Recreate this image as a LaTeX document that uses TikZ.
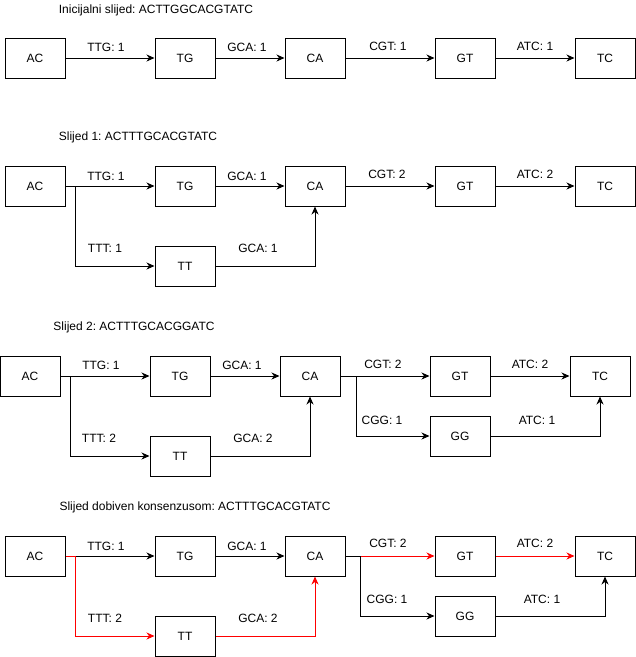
\documentclass[tikz,border=0pt]{standalone}
\usepackage{fontspec}
\setmainfont{Liberation Sans}
\usepackage{xcolor}
\usetikzlibrary{arrows.meta}
\frenchspacing
\definecolor{dark}{RGB}{0, 0, 0}
\definecolor{best}{RGB}{255, 0, 0}
\tikzset{
    kmer/.style={rectangle, draw=dark, line width=1pt, fill=white, minimum width=60pt, minimum height=40pt, inner sep=0pt, font=\fontsize{12}{14}\selectfont},
    lbl/.style={inner sep=0pt, font=\fontsize{12}{14}\selectfont},
    arr/.style={-{Stealth[length=8pt, width=7pt, inset=2.5pt]}, line width=1pt, dark},
    hl/.style={best}
}
\begin{document}
\begin{tikzpicture}[x=1pt, y=-1pt]
        \useasboundingbox (0,0) rectangle (636,657);

        % Inicijalni slijed
        \node[lbl] (t1) at (156,10) {Inicijalni slijed: ACTTGGCACGTATC};
        \node[kmer] (ac1) at (35,58) {AC};
        \node[kmer] (tg1) at (185,58) {TG};
        \node[kmer] (ca1) at (315,58) {CA};
        \node[kmer] (gt1) at (465,58) {GT};
        \node[kmer] (tc1) at (605,58) {TC};
        \node[lbl] at (106,47) {TTG: 1};
        \node[lbl] at (247,47) {GCA: 1};
        \node[lbl] at (388,46) {CGT: 1};
        \node[lbl] at (535,46) {ATC: 1};
        \draw[arr] (ac1) -- (tg1);
        \draw[arr] (tg1) -- (ca1);
        \draw[arr] (ca1) -- (gt1);
        \draw[arr] (gt1) -- (tc1);

        % Slijed 1
        \node[lbl] (t2) at (138,137) {Slijed 1: ACTTTGCACGTATC};
        \node[kmer] (ac2) at (35,186) {AC};
        \node[kmer] (tg2) at (185,186) {TG};
        \node[kmer] (ca2) at (315,186) {CA};
        \node[kmer] (gt2) at (465,186) {GT};
        \node[kmer] (tc2) at (605,186) {TC};
        \node[kmer] (tt2) at (185,266) {TT};
        \node[lbl] at (106,176) {TTG: 1};
        \node[lbl] at (247,176) {GCA: 1};
        \node[lbl] at (105,248) {TTT: 1};
        \node[lbl] at (258,248) {GCA: 1};
        \node[lbl] at (387,174) {CGT: 2};
        \node[lbl] at (535,174) {ATC: 2};
        \draw[arr] (ac2) -- (tg2);
        \draw[arr] (ac2.east) -- ++(10,0) |- (tt2);
        \draw[arr] (tg2) -- (ca2);
        \draw[arr] (tt2) -| (ca2);
        \draw[arr] (ca2) -- (gt2);
        \draw[arr] (gt2) -- (tc2);

        % Slijed 2
        \node[lbl] (t3) at (134,327) {Slijed 2: ACTTTGCACGGATC};
        \node[kmer] (ac3) at (30,376) {AC};
        \node[kmer] (tg3) at (180,376) {TG};
        \node[kmer] (ca3) at (310,376) {CA};
        \node[kmer] (gt3) at (460,376) {GT};
        \node[kmer] (tc3) at (600,376) {TC};
        \node[kmer] (tt3) at (180,456) {TT};
        \node[kmer] (gg3) at (460,436) {GG};
        \node[lbl] at (101,365) {TTG: 1};
        \node[lbl] at (242,365) {GCA: 1};
        \node[lbl] at (99,438) {TTT: 2};
        \node[lbl] at (253,438) {GCA: 2};
        \node[lbl] at (383,364) {CGT: 2};
        \node[lbl] at (530,364) {ATC: 2};
        \node[lbl] at (382,420) {CGG: 1};
        \node[lbl] at (537,420) {ATC: 1};
        \draw[arr] (ac3) -- (tg3);
        \draw[arr] (ac3.east) -- ++(10,0) |- (tt3);
        \draw[arr] (tg3) -- (ca3);
        \draw[arr] (tt3) -| (ca3);
        \draw[arr] (ca3) -- (gt3);
        \draw[arr] (ca3.east) -- ++(16,0) |- (gg3);
        \draw[arr] (gt3) -- (tc3);
        \draw[arr] (gg3) -| (tc3);

        % Slijed dobiven konsenzusom
        \node[lbl] (t4) at (195,507) {Slijed dobiven konsenzusom: ACTTTGCACGTATC};
        \node[kmer] (ac4) at (35,556) {AC};
        \node[kmer] (tg4) at (185,556) {TG};
        \node[kmer] (ca4) at (315,556) {CA};
        \node[kmer] (gt4) at (465,556) {GT};
        \node[kmer] (tc4) at (605,556) {TC};
        \node[kmer] (tt4) at (185,636) {TT};
        \node[kmer] (gg4) at (465,616) {GG};
        \node[lbl] at (106,546) {TTG: 1};
        \node[lbl] at (247,546) {GCA: 1};
        \node[lbl] at (105,618) {TTT: 2};
        \node[lbl] at (258,618) {GCA: 2};
        \node[lbl] at (388,543) {CGT: 2};
        \node[lbl] at (535,543) {ATC: 2};
        \node[lbl] at (387,599) {CGG: 1};
        \node[lbl] at (542,599) {ATC: 1};
        \draw[arr] (ac4) -- (tg4);
        \draw[arr, hl] (ac4.east) -- ++(10,0) |- (tt4);
        \draw[arr] (tg4) -- (ca4);
        \draw[arr, hl] (tt4) -| (ca4);
        \draw[arr, hl] (ca4) -- (gt4);
        \draw[arr] (ca4.east) -- ++(15,0) |- (gg4);
        \draw[arr, hl] (gt4) -- (tc4);
        \draw[arr] (gg4) -| (tc4);
    \end{tikzpicture}
\end{document}
